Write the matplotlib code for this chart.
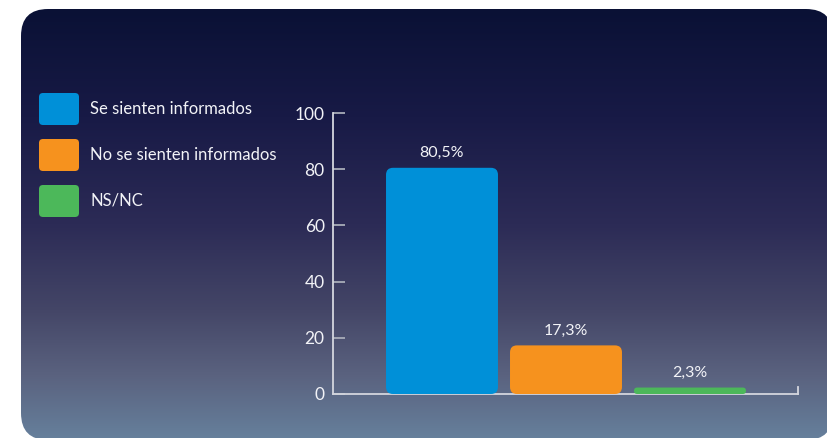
import matplotlib.pyplot as plt
import matplotlib.patches as mpatches
import numpy as np
from matplotlib.colors import LinearSegmentedColormap

plt.rcParams['font.family'] = ['Lato', 'DejaVu Sans']

# Survey result
categories = ["Se sienten informados", "No se sienten informados", "NS/NC"]
values = [80.5, 17.3, 2.3]
value_labels = ["80,5%", "17,3%", "2,3%"]
bar_colors = ["#0090d8", "#f6921e", "#4cb85a"]
yticks = [0, 20, 40, 60, 80, 100]

W, H = 827, 438
TEXT = "#f2f3f7"
AXIS = "#d4d6de"


def rounded_bar(ax, x, h, width, color, r_px, aspect, px_per_x):
    r = min(r_px / px_per_x, h / aspect / 2)
    box = mpatches.FancyBboxPatch((x - width / 2, 0), width, h,
                                  boxstyle=f"round,pad=0,rounding_size={r}",
                                  mutation_aspect=aspect,
                                  facecolor=color, edgecolor="none", zorder=3)
    ax.add_patch(box)


def main():
    fig = plt.figure(figsize=(W / 100, H / 100), dpi=100)
    fig.patch.set_facecolor("white")

    # Background layer in pixel coordinates
    bg = fig.add_axes([0, 0, 1, 1])
    bg.set_xlim(0, W); bg.set_ylim(H, 0)
    bg.axis("off")

    panel = mpatches.FancyBboxPatch((21, 9), 812, 431,
                                    boxstyle="round,pad=0,rounding_size=27",
                                    facecolor="none", edgecolor="none")
    bg.add_patch(panel)
    grad_cmap = LinearSegmentedColormap.from_list("panel", [
        (0.00, "#0a1135"), (0.25, "#181a46"), (0.50, "#2c2b56"),
        (0.70, "#444667"), (0.85, "#5a627f"), (1.00, "#66809c")])
    grad = np.linspace(0, 1, 256).reshape(-1, 1)
    im = bg.imshow(grad, cmap=grad_cmap, aspect="auto",
                   extent=[21, 833, 440, 9], interpolation="bilinear")
    im.set_clip_path(panel)

    # Legend with rounded swatches
    for i, (lab, col) in enumerate(zip(categories, bar_colors)):
        y0 = 93 + i * 46
        sw = mpatches.FancyBboxPatch((39, y0), 40, 32,
                                     boxstyle="round,pad=0,rounding_size=4",
                                     facecolor=col, edgecolor="none")
        bg.add_patch(sw)
        bg.text(90, y0 + 16, lab, color=TEXT, fontsize=12,
                ha="left", va="center")

    # Bar chart
    left, right = 333 / W, 798 / W
    bottom, top = (H - 394) / H, (H - 113) / H
    ax = fig.add_axes([left, bottom, right - left, top - bottom])
    ax.patch.set_alpha(0)
    xmin, xmax = -0.879, 2.871
    ax.set_xlim(xmin, xmax)
    ax.set_ylim(0, 100)

    px_per_x = (right - left) * W / (xmax - xmin)
    px_per_y = (top - bottom) * H / 100
    aspect = px_per_x / px_per_y

    x = np.arange(len(values))
    for xi, v, c, lab in zip(x, values, bar_colors, value_labels):
        rounded_bar(ax, xi, v, 0.903, c, 7, aspect, px_per_x)
        ax.text(xi, v + 2.8, lab, color=TEXT, fontsize=11.5,
                ha="center", va="bottom")

    ax.spines["top"].set_visible(False)
    ax.spines["right"].set_bounds(0, 2.6)
    for s in ("left", "bottom", "right"):
        ax.spines[s].set_color(AXIS)
        ax.spines[s].set_linewidth(1.3)
    ax.set_xticks([])
    ax.set_yticks(yticks)
    ax.tick_params(axis="y", direction="in", length=8.5, width=1.3,
                   color="#a8acb8", labelcolor=TEXT, labelsize=12.5, pad=6)

    fig.savefig("out.png", dpi=100)


if __name__ == "__main__":
    main()
